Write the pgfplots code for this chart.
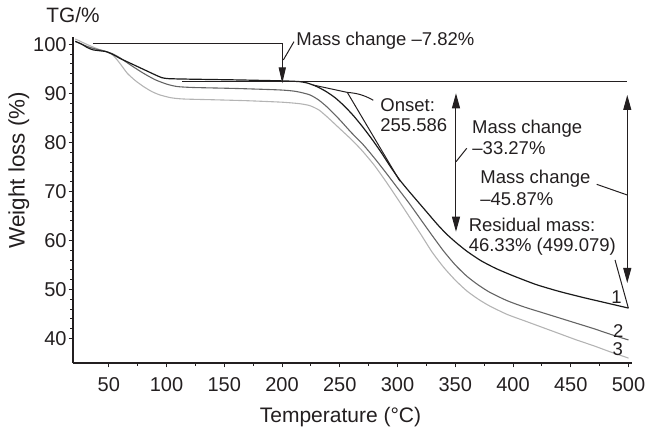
\documentclass[border=0pt]{standalone}
\usepackage{fontspec}
\setmainfont{Liberation Sans}
\usepackage{pgfplots}
\pgfplotsset{compat=1.18}
\usetikzlibrary{arrows.meta}
\definecolor{ink}{HTML}{231F20}
\definecolor{cA}{HTML}{1A1A1A}
\definecolor{cB}{HTML}{656565}
\definecolor{cC}{HTML}{B4B4B4}
\newcommand{\annot}{\fontsize{9.25}{11}\selectfont}
\begin{document}
\begin{tikzpicture}
\useasboundingbox (0,0) rectangle (323.5pt,215pt);
\begin{axis}[
  at={(36.5pt,33.5pt)}, anchor=south west,
  scale only axis, width=279.5pt, height=163pt,
  xmin=19, xmax=503, ymin=35, ymax=101.5,
  axis x line*=bottom, axis y line*=left,
  axis line style={line width=0.6pt, ink},
  xtick={50,100,...,500}, ytick={40,50,...,100},
  minor x tick num=1, minor y tick num=4,
  tick align=outside, major tick length=2.2pt, minor tick length=1.3pt,
  tick style={line width=0.5pt, ink},
  every tick label/.append style={font=\fontsize{10}{12}\selectfont, text=ink},
  xticklabel style={inner sep=0pt, anchor=north, yshift=-4.8pt},
  yticklabel style={inner sep=0pt, anchor=east, xshift=-0.8pt},
  /pgf/number format/assume math mode=true,
  clip=false,
  xlabel={Temperature (°C)}, ylabel={Weight loss (\%)},
  xlabel style={font=\fontsize{10.5}{12}\selectfont, text=ink, inner sep=0pt,
    at={(axis description cs:0.4785,-0.184)}, anchor=base},
  ylabel style={font=\fontsize{11.2}{13}\selectfont, text=ink, inner sep=0pt,
    at={(axis description cs:-0.097,0.592)}, anchor=center},
]
% sample 3
\addplot[cC, line width=0.55pt, smooth, tension=0.4] coordinates {
(21,101.1)(30,100.1)(40,99.1)(48,98.5)(54,97.7)(60,96.0)(66,94.1)(73,92.6)(80,91.4)(87,90.4)(94,89.7)(104,89.1)(115,88.85)(140,88.7)(170,88.5)(200,88.2)(215,87.9)(224,87.5)(232,86.6)(240,85.0)(250,82.8)(260,80.6)(269,78.4)(280,75.3)(290,72.0)(300,68.5)(310,64.9)(320,61.3)(330,57.6)(340,54.5)(350,51.9)(360,49.7)(370,48.0)(380,46.6)(395,44.9)(410,43.6)(425,42.3)(440,41.0)(455,39.7)(470,38.5)(485,37.2)(500,36.0)
};
% sample 2
\addplot[cB, line width=0.55pt, smooth, tension=0.4] coordinates {
(21,100.6)(30,99.7)(36,99.2)(45,98.7)(53,98.1)(60,97.2)(70,95.6)(80,94.1)(90,92.8)(100,91.9)(109,91.4)(123,91.2)(160,91.0)(198,90.7)(212,90.4)(224,89.7)(232,88.6)(240,87.0)(250,84.6)(260,82.0)(270,79.6)(280,76.8)(290,73.8)(300,70.7)(310,67.6)(320,64.3)(330,61.0)(340,57.8)(350,55.0)(360,52.7)(370,50.9)(380,49.4)(395,47.7)(410,46.4)(425,45.3)(440,44.2)(455,43.1)(470,42.0)(485,40.8)(500,39.7)
};
% sample 1
\addplot[cA, line width=0.6pt, smooth, tension=0.4] coordinates {
(21,100.6)(26,100.1)(31,99.4)(36,98.9)(42,98.7)(48,98.5)(53,98.0)(60,97.1)(70,96.0)(80,94.9)(90,93.8)(96,93.2)(102,93.0)(120,92.9)(160,92.75)(200,92.55)(215,92.4)(222,92.1)(230,91.4)(238,90.4)(246,89.1)(254,87.4)(262,85.4)(270,83.1)(278,80.6)(286,77.9)(294,75.0)(302,72.3)(310,70.0)(318,67.8)(326,65.6)(334,63.4)(342,61.4)(350,59.7)(360,57.8)(372,55.9)(385,54.3)(400,52.8)(420,51.0)(440,49.6)(460,48.4)(480,47.3)(500,46.2)
};
% annotations
\begin{scope}[ink, line width=0.5pt]
\draw (axis cs:36.3,100.22) -- (axis cs:200.2,100.22);
\draw[-{Triangle[length=8pt,width=3.6pt]}] (axis cs:200.2,100.22) -- (axis cs:200.2,92.06);
\draw (axis cs:201.1,96.81) -- (axis cs:210.3,100.54);
\draw (axis cs:113.4,92.52) -- (axis cs:498.7,92.52);
\draw (axis cs:226.8,91.71) -- (axis cs:256.5,90.2) -- (axis cs:302,72.1);
\draw (axis cs:256.5,90.2) to[bend left=12] (axis cs:279,88.6);
\draw[{Triangle[length=7.5pt,width=4pt]}-{Triangle[length=7.5pt,width=4pt]}] (axis cs:350.6,90.02) -- (axis cs:350.6,61.78);
\draw (axis cs:350.6,76.06) -- (axis cs:359.9,78.8);
\draw[{Triangle[length=7.5pt,width=4pt]}-{Triangle[length=7.5pt,width=4pt]}] (axis cs:498.9,89.67) -- (axis cs:498.9,51.32);
\draw (axis cs:472.4,71.45) -- (axis cs:498.9,69.27);
\draw (axis cs:488.3,56.01) -- (axis cs:499.8,46.22);
\end{scope}
\begin{scope}[every node/.style={anchor=base west, inner sep=0pt, font=\annot, text=ink}]
\node at (axis cs:212.1,99.73) {Mass change –7.82\%};
\node at (axis cs:284.8,86.40) {Onset:};
\node at (axis cs:284.8,82.18) {255.586};
\node at (axis cs:364.2,81.86) {Mass change};
\node at (axis cs:364.5,77.43) {–33.27\%};
\node at (axis cs:371.4,71.66) {Mass change};
\node at (axis cs:371.4,67.23) {–45.87\%};
\node at (axis cs:361.3,61.78) {Residual mass:};
\node at (axis cs:361.3,57.70) {46.33\% (499.079)};
\node[anchor=base east] at (axis cs:494.3,47.24) {1};
\node[anchor=base east] at (axis cs:496,40.30) {2};
\node[anchor=base east] at (axis cs:495.5,36.63) {3};
\end{scope}
\node[font=\fontsize{10.4}{12}\selectfont, text=ink, inner sep=0pt] at (axis description cs:0,1.0675) {TG/\%};
\end{axis}
\end{tikzpicture}
\end{document}
